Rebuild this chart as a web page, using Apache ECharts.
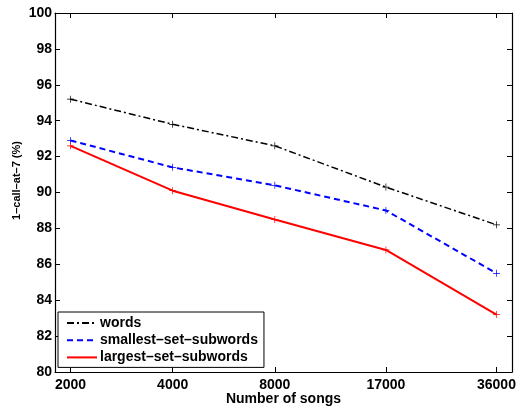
<!DOCTYPE html>
<html><head><meta charset="utf-8">
<script src="https://cdn.jsdelivr.net/npm/echarts@6/dist/echarts.min.js"></script>
<style>html,body{margin:0;padding:0;background:#fff}#c{width:518px;height:408px}</style>
</head><body><div id="c"></div>
<script>
const songs = [2000, 4000, 8000, 17000, 36000];
const words = [95.2, 93.8, 92.6, 90.3, 88.2];
const smallestSetSubwords = [92.9, 91.4, 90.4, 89.0, 85.5];
const largestSetSubwords = [92.6, 90.1, 88.5, 86.8, 83.2];
const yTicks = [80, 82, 84, 86, 88, 90, 92, 94, 96, 98, 100];
const seriesNames = ['words', 'smallest–set–subwords', 'largest–set–subwords'];

const FONT = '"Liberation Sans", Arial, sans-serif';
const plus = 'path://M-0.1,-1H0.1V-0.1H1V0.1H0.1V1H-0.1V0.1H-1V-0.1H-0.1Z';
function pts(v){ return songs.map((s,i)=>[s, v[i]]); }

const chart = echarts.init(document.getElementById('c'), null, {renderer:'canvas'});
const xCommon = {
  type:'log', logBase:2, min:1800, max:40000,
  splitLine:{show:false}, minorTick:{show:false},
  axisLine:{show:true, lineStyle:{color:'#000', width:1.2}},
  axisTick:{show:true, inside:true, length:5, lineStyle:{color:'#000', width:1}, customValues:songs}
};
const yCommon = {
  type:'value', min:80, max:100, interval:2,
  splitLine:{show:false},
  axisLine:{show:true, lineStyle:{color:'#000', width:1.2}},
  axisTick:{show:true, inside:true, length:5, lineStyle:{color:'#000', width:1}}
};
chart.setOption({
  animation:false,
  backgroundColor:'#fff',
  grid:{left:55, top:13, right:6, bottom:36, containLabel:false, outerBoundsMode:'none'},
  xAxis:[
    Object.assign({}, xCommon, {
      position:'bottom',
      name:'Number of songs', nameLocation:'middle', nameGap:20, nameMoveOverlap:false,
      nameTextStyle:{fontFamily:FONT, fontWeight:'bold', fontSize:14, color:'#000'},
      axisLabel:{show:true, customValues:songs, margin:6, fontFamily:FONT, fontWeight:'bold', fontSize:14, color:'#000', formatter:v=>String(Math.round(v))}
    }),
    Object.assign({}, xCommon, {position:'top', axisLabel:{show:false}})
  ],
  yAxis:[
    Object.assign({}, yCommon, {
      position:'left',
      name:'1–call–at–7 (%)', nameLocation:'middle', nameGap:33, nameRotate:90, nameMoveOverlap:false,
      nameTextStyle:{fontFamily:FONT, fontWeight:'bold', fontSize:11, color:'#000', padding:[0,0,0,24]},
      axisLabel:{show:true, margin:3, fontFamily:FONT, fontWeight:'bold', fontSize:14, color:'#000',
        customValues:yTicks}
    }),
    Object.assign({}, yCommon, {position:'right', axisLabel:{show:false}})
  ],
  legend:{
    orient:'vertical', left:58, top:312, width:205,
    backgroundColor:'#fff', borderColor:'#000', borderWidth:1, borderRadius:0,
    padding:[4,6,3,8], itemGap:3.2, itemWidth:30, itemHeight:14,
    itemStyle:{opacity:0},
    textStyle:{fontFamily:FONT, fontWeight:'bold', fontSize:14, color:'#000', padding:[0,0,0,-2]},
    data:seriesNames
  },
  series:[
    {name:seriesNames[0], type:'line', data:pts(words), symbol:plus, symbolSize:7,
     itemStyle:{color:'#000'}, lineStyle:{color:'#000', width:1.5, type:[7,3,2,3]}},
    {name:seriesNames[1], type:'line', data:pts(smallestSetSubwords), symbol:plus, symbolSize:7,
     itemStyle:{color:'#0000ff'}, lineStyle:{color:'#0000ff', width:2, type:[6,4]}},
    {name:seriesNames[2], type:'line', data:pts(largestSetSubwords), symbol:plus, symbolSize:7,
     itemStyle:{color:'#ff0000'}, lineStyle:{color:'#ff0000', width:2, type:'solid'}}
  ]
});
</script></body></html>
